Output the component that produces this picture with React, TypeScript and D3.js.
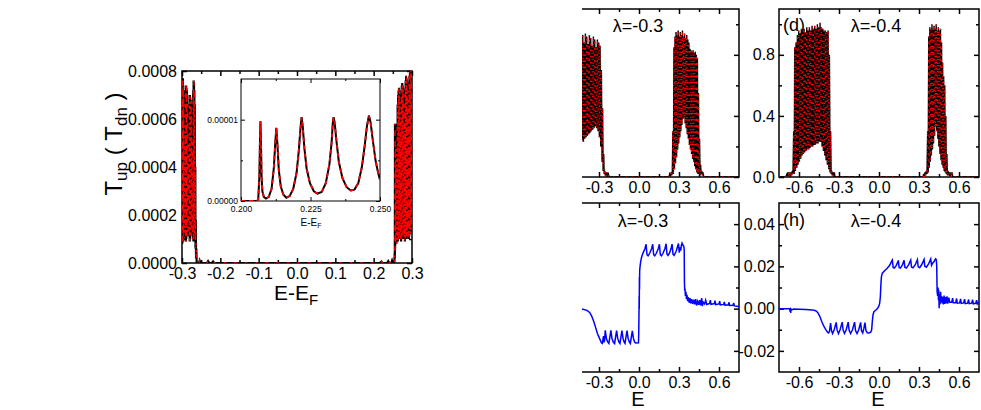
import { useEffect, useRef } from "react";
import * as d3 from "d3";

type Pt = [number, number];

const FONT = "'Liberation Sans', Arial, sans-serif";

// Left figure: T_up (black) and T_dn (red dashed) vs E-E_F. Both channels overlap within line width.
const mainT: Pt[] = [
  [-0.3, 0.0003], [-0.2996, 0.00077], [-0.2991, 0.00008], [-0.2986, 0.00076], [-0.2981, 0.0001],
  [-0.2976, 0.00077], [-0.2971, 0.00009], [-0.2966, 0.00074], [-0.2961, 0.00011], [-0.2956, 0.00072],
  [-0.2951, 0.00012], [-0.2945, 0.0007], [-0.2939, 0.00013], [-0.293, 0.00048], [-0.2921, 0.00012],
  [-0.2913, 0.00055], [-0.2908, 0.0001], [-0.2903, 0.00072], [-0.2898, 0.00009], [-0.2893, 0.00074],
  [-0.2888, 0.0001], [-0.2883, 0.00073], [-0.2878, 0.00011], [-0.2873, 0.00072], [-0.2868, 0.00012],
  [-0.2862, 0.0007], [-0.2856, 0.00013], [-0.285, 0.00066], [-0.2845, 0.00014], [-0.2836, 0.00045],
  [-0.2827, 0.00012], [-0.2818, 0.0005], [-0.281, 0.00011], [-0.2804, 0.00066], [-0.2799, 0.00009],
  [-0.2794, 0.0007], [-0.2789, 0.0001], [-0.2784, 0.00069], [-0.2779, 0.00011], [-0.2774, 0.00068],
  [-0.2768, 0.00012], [-0.2762, 0.00066], [-0.2756, 0.00013], [-0.275, 0.00062], [-0.2744, 0.00014],
  [-0.2735, 0.00045], [-0.2726, 0.00012], [-0.2718, 0.00052], [-0.2712, 0.0001], [-0.2707, 0.00072],
  [-0.2702, 0.00009], [-0.2697, 0.00076], [-0.2692, 0.0001], [-0.2687, 0.00075], [-0.2682, 0.00011],
  [-0.2677, 0.00072], [-0.2671, 0.00012], [-0.2665, 0.00066], [-0.2659, 0.0001], [-0.2653, 0.0004],
  [-0.2647, 0.00006], [-0.2641, 0.00018], [-0.2634, 0.00002], [-0.2626, 0.00006], [-0.2617, 0.0],
  [-0.256, 0.0], [-0.254, 0.00001], [-0.252, 0.0], [-0.235, 0.0], [-0.232, 0.000008], [-0.229, 0.0],
  [-0.222, 0.0], [-0.219, 0.000006], [-0.216, 0.0], [0.216, 0.0], [0.22, 0.000006], [0.223, 0.0],
  [0.235, 0.0], [0.238, 0.000008], [0.241, 0.0], [0.246, 0.0], [0.248, 0.00001], [0.25, 0.0],
  [0.254, 0.0], [0.2548, 0.00004], [0.2552, 0.00002], [0.2556, 0.00058], [0.256, 0.00006],
  [0.2564, 0.00057], [0.2569, 0.00008], [0.2574, 0.0005], [0.258, 0.00009], [0.2587, 0.0004],
  [0.2594, 0.00008], [0.2601, 0.00046], [0.2607, 0.00009], [0.2614, 0.00058], [0.262, 0.0001],
  [0.2626, 0.00066], [0.2632, 0.00009], [0.2638, 0.0007], [0.2644, 0.0001], [0.265, 0.00072],
  [0.2656, 0.00011], [0.2662, 0.00073], [0.2667, 0.0001], [0.2672, 0.00072], [0.2677, 0.00011],
  [0.2683, 0.00068], [0.2689, 0.00012], [0.2696, 0.00052], [0.2703, 0.0001], [0.271, 0.0006],
  [0.2716, 0.00009], [0.2722, 0.0007], [0.2728, 0.0001], [0.2734, 0.00074], [0.274, 0.00011],
  [0.2746, 0.00075], [0.2752, 0.0001], [0.2758, 0.00074], [0.2764, 0.00011], [0.277, 0.00073],
  [0.2776, 0.00012], [0.2782, 0.0007], [0.2788, 0.00012], [0.2795, 0.00055], [0.2802, 0.0001],
  [0.2809, 0.00064], [0.2815, 0.00009], [0.2822, 0.00072], [0.2828, 0.0001], [0.2834, 0.00076],
  [0.284, 0.00011], [0.2846, 0.00078], [0.2852, 0.0001], [0.2858, 0.00077], [0.2864, 0.00011],
  [0.287, 0.00076], [0.2876, 0.00012], [0.2882, 0.00072], [0.2888, 0.00012], [0.2895, 0.0006],
  [0.2902, 0.00011], [0.2909, 0.00068], [0.2915, 0.0001], [0.2922, 0.00075], [0.2928, 0.00011],
  [0.2934, 0.00078], [0.294, 0.00012], [0.2946, 0.00079], [0.2952, 0.00012], [0.2958, 0.0008],
  [0.2964, 0.00013], [0.297, 0.0008], [0.2976, 0.00014], [0.2982, 0.00079], [0.2988, 0.00015],
  [0.2994, 0.0008], [0.3, 0.0006],
];

// Inset: T in units of 1e-5 vs E-E_F
const insetT: Pt[] = [
  [0.2, 0], [0.204, 0], [0.2058, 0], [0.2062, 0.02], [0.2066, 0.3], [0.2068, 0.7], [0.207, 0.98],
  [0.2072, 0.7], [0.2074, 0.3], [0.2077, 0.12], [0.2082, 0.05], [0.209, 0.03], [0.21, 0.05],
  [0.211, 0.15], [0.2118, 0.4], [0.2123, 0.7], [0.2127, 0.9], [0.2131, 0.7], [0.2136, 0.38],
  [0.2143, 0.18], [0.2152, 0.08], [0.2163, 0.04], [0.2175, 0.06], [0.2188, 0.15], [0.22, 0.35],
  [0.2208, 0.62], [0.2214, 0.9], [0.2218, 1.03], [0.2222, 0.92], [0.2228, 0.65], [0.2236, 0.4],
  [0.2248, 0.22], [0.2262, 0.12], [0.2275, 0.09], [0.229, 0.11], [0.2305, 0.22], [0.2318, 0.45],
  [0.2326, 0.72], [0.233, 0.95], [0.2333, 1.03], [0.2337, 0.96], [0.2343, 0.75], [0.2352, 0.48],
  [0.2365, 0.28], [0.238, 0.17], [0.2395, 0.13], [0.2408, 0.14], [0.2422, 0.22], [0.2435, 0.42],
  [0.2445, 0.68], [0.2453, 0.92], [0.246, 1.05], [0.2466, 0.97], [0.2474, 0.75], [0.2484, 0.5],
  [0.2493, 0.35], [0.25, 0.26],
];

// Panel (c) lambda=-0.3 transmission vs E
const cT: Pt[] = [
  [-0.75, 0], [-0.47, 0], [-0.466, 0.3], [-0.462, 0.92], [-0.457, 0.22], [-0.452, 0.95], [-0.447, 0.23],
  [-0.442, 0.9], [-0.437, 0.22], [-0.432, 0.94], [-0.427, 0.24], [-0.422, 0.93], [-0.417, 0.23],
  [-0.412, 0.88], [-0.407, 0.25], [-0.402, 0.94], [-0.397, 0.26], [-0.392, 0.92], [-0.387, 0.27],
  [-0.382, 0.87], [-0.377, 0.28], [-0.372, 0.93], [-0.367, 0.29], [-0.362, 0.91], [-0.357, 0.3],
  [-0.352, 0.86], [-0.347, 0.31], [-0.342, 0.92], [-0.337, 0.32], [-0.332, 0.9], [-0.327, 0.33],
  [-0.322, 0.85], [-0.317, 0.32], [-0.312, 0.9], [-0.307, 0.3], [-0.302, 0.88], [-0.297, 0.26],
  [-0.292, 0.86], [-0.287, 0.2], [-0.282, 0.7], [-0.277, 0.1], [-0.273, 0.45], [-0.269, 0.04],
  [-0.265, 0.15], [-0.261, 0.02], [-0.257, 0.04], [-0.253, 0.01], [-0.249, 0.03], [-0.245, 0],
  [-0.24, 0.03], [-0.235, 0.01], [-0.23, 0.02], [-0.225, 0], [0.225, 0], [0.23, 0.02], [0.235, 0.01],
  [0.24, 0.03], [0.245, 0.01], [0.25, 0.04], [0.254, 0.3], [0.258, 0.02], [0.262, 0.85], [0.266, 0.05],
  [0.27, 0.92], [0.274, 0.09], [0.278, 0.95], [0.282, 0.13], [0.286, 0.93], [0.29, 0.18], [0.294, 0.96],
  [0.298, 0.22], [0.302, 0.92], [0.306, 0.26], [0.31, 0.95], [0.314, 0.3], [0.318, 0.93], [0.322, 0.34],
  [0.326, 0.96], [0.33, 0.38], [0.334, 0.92], [0.338, 0.39], [0.342, 0.94], [0.346, 0.35], [0.35, 0.91],
  [0.354, 0.32], [0.358, 0.93], [0.362, 0.28], [0.366, 0.9], [0.37, 0.25], [0.374, 0.88], [0.378, 0.21],
  [0.382, 0.84], [0.386, 0.18], [0.39, 0.83], [0.394, 0.15], [0.398, 0.82], [0.402, 0.12], [0.406, 0.83],
  [0.41, 0.1], [0.414, 0.81], [0.418, 0.07], [0.422, 0.82], [0.426, 0.05], [0.43, 0.8], [0.434, 0.03],
  [0.438, 0.78], [0.442, 0.02], [0.446, 0.55], [0.45, 0.02], [0.454, 0.25], [0.458, 0.01], [0.462, 0.08],
  [0.466, 0.02], [0.47, 0.04], [0.475, 0.01], [0.48, 0.03], [0.486, 0], [0.75, 0],
];

// Panel (d) lambda=-0.4 transmission vs E
const dT: Pt[] = [
  [-0.75, 0], [-0.7, 0], [-0.69, 0.02], [-0.685, 0], [-0.68, 0.03], [-0.675, 0.01], [-0.67, 0.03],
  [-0.665, 0], [-0.66, 0.03], [-0.655, 0.01], [-0.65, 0.04], [-0.645, 0.02], [-0.64, 0.3], [-0.636, 0.02],
  [-0.632, 0.85], [-0.627, 0.04], [-0.622, 0.88], [-0.617, 0.06], [-0.612, 0.93], [-0.607, 0.08],
  [-0.602, 0.96], [-0.597, 0.1], [-0.592, 0.94], [-0.587, 0.12], [-0.582, 0.97], [-0.577, 0.14],
  [-0.572, 0.95], [-0.567, 0.15], [-0.562, 0.97], [-0.557, 0.16], [-0.552, 0.95], [-0.547, 0.17],
  [-0.542, 0.98], [-0.537, 0.18], [-0.532, 0.96], [-0.527, 0.18], [-0.522, 0.98], [-0.517, 0.19],
  [-0.512, 0.96], [-0.507, 0.2], [-0.502, 0.99], [-0.497, 0.2], [-0.492, 0.97], [-0.487, 0.21],
  [-0.482, 0.99], [-0.477, 0.21], [-0.472, 0.97], [-0.467, 0.22], [-0.462, 1.0], [-0.457, 0.22],
  [-0.452, 0.98], [-0.447, 0.23], [-0.442, 1.01], [-0.437, 0.23], [-0.432, 0.98], [-0.427, 0.2],
  [-0.422, 0.97], [-0.417, 0.17], [-0.412, 0.96], [-0.407, 0.14], [-0.402, 0.96], [-0.397, 0.11],
  [-0.392, 0.95], [-0.387, 0.08], [-0.382, 0.96], [-0.377, 0.05], [-0.372, 0.8], [-0.367, 0.03],
  [-0.363, 0.3], [-0.359, 0.02], [-0.355, 0.04], [-0.35, 0.01], [-0.345, 0.03], [-0.34, 0],
  [-0.335, 0.03], [-0.33, 0], [0.33, 0], [0.335, 0.02], [0.34, 0], [0.345, 0.03], [0.35, 0.01],
  [0.355, 0.04], [0.36, 0.02], [0.365, 0.3], [0.369, 0.03], [0.373, 0.92], [0.377, 0.06], [0.381, 0.98],
  [0.385, 0.1], [0.389, 0.97], [0.393, 0.14], [0.397, 1.0], [0.401, 0.18], [0.405, 0.97], [0.409, 0.22],
  [0.413, 0.99], [0.417, 0.27], [0.421, 0.97], [0.425, 0.33], [0.429, 1.0], [0.433, 0.3], [0.437, 0.96],
  [0.441, 0.25], [0.445, 0.98], [0.449, 0.2], [0.453, 0.96], [0.457, 0.15], [0.461, 0.97], [0.465, 0.11],
  [0.469, 0.88], [0.473, 0.08], [0.477, 0.75], [0.481, 0.06], [0.485, 0.66], [0.489, 0.04], [0.493, 0.6],
  [0.497, 0.03], [0.501, 0.4], [0.505, 0.02], [0.509, 0.15], [0.513, 0.01], [0.518, 0.04], [0.523, 0.01],
  [0.528, 0.03], [0.533, 0], [0.538, 0.03], [0.543, 0.01], [0.548, 0.03], [0.553, 0], [0.75, 0],
];

// Panel (g) lambda=-0.3 blue curve vs E
const gP: Pt[] = [
  [-0.75, 0], [-0.5, 0], [-0.42, -0.0003], [-0.39, -0.0008], [-0.37, -0.0018], [-0.355, -0.0035],
  [-0.34, -0.006], [-0.325, -0.009], [-0.312, -0.0118], [-0.3, -0.0135], [-0.29, -0.015], [-0.282, -0.0162],
  [-0.275, -0.0165], [-0.266, -0.013], [-0.262, -0.016], [-0.258, -0.015], [-0.253, -0.0103],
  [-0.245, -0.014], [-0.235, -0.0158], [-0.226, -0.0165], [-0.211, -0.0103], [-0.203, -0.014],
  [-0.193, -0.0158], [-0.183, -0.0165], [-0.168, -0.0104], [-0.16, -0.014], [-0.151, -0.0158],
  [-0.143, -0.0165], [-0.128, -0.0104], [-0.12, -0.014], [-0.112, -0.0158], [-0.105, -0.0165],
  [-0.09, -0.0104], [-0.082, -0.014], [-0.073, -0.0158], [-0.065, -0.0165], [-0.05, -0.0105],
  [-0.042, -0.014], [-0.033, -0.0158], [-0.025, -0.0163], [-0.004, -0.0162], [-0.002, -0.012],
  [0.0, -0.002], [0.001, 0.006], [0.002, 0.0], [0.003, 0.015], [0.004, 0.009], [0.005, 0.018],
  [0.008, 0.02], [0.012, 0.022], [0.018, 0.024], [0.025, 0.0255], [0.035, 0.027], [0.045, 0.0285],
  [0.053, 0.0305], [0.06, 0.0255], [0.068, 0.025], [0.08, 0.0262], [0.095, 0.0285], [0.103, 0.0305],
  [0.11, 0.0255], [0.118, 0.025], [0.13, 0.0262], [0.145, 0.0285], [0.153, 0.0305], [0.16, 0.0255],
  [0.168, 0.025], [0.18, 0.0262], [0.195, 0.0285], [0.203, 0.0307], [0.21, 0.0258], [0.218, 0.0252],
  [0.23, 0.0265], [0.242, 0.0288], [0.248, 0.0305], [0.255, 0.0258], [0.263, 0.0252], [0.278, 0.027],
  [0.29, 0.0295], [0.296, 0.0308], [0.302, 0.0265], [0.308, 0.029], [0.313, 0.0275], [0.318, 0.03],
  [0.323, 0.031], [0.33, 0.03], [0.336, 0.0295], [0.339, 0.028], [0.341, 0.012], [0.343, 0.0085],
  [0.345, 0.0095], [0.348, 0.006], [0.352, 0.008], [0.356, 0.0045], [0.36, 0.0065], [0.365, 0.0035],
  [0.37, 0.0055], [0.376, 0.0028], [0.382, 0.005], [0.388, 0.0025], [0.395, 0.0045], [0.402, 0.0022],
  [0.41, 0.0042], [0.418, 0.002], [0.425, 0.0045], [0.432, 0.0015], [0.44, 0.0035], [0.448, 0.0018],
  [0.455, 0.004], [0.462, 0.0015], [0.47, 0.005], [0.475, 0.0012], [0.482, 0.003], [0.492, 0.0022],
  [0.5, 0.004], [0.508, 0.002], [0.53, 0.0025], [0.535, 0.004], [0.54, 0.002], [0.565, 0.0024],
  [0.57, 0.0038], [0.575, 0.0019], [0.6, 0.0022], [0.605, 0.0035], [0.61, 0.0018], [0.635, 0.002],
  [0.64, 0.0032], [0.645, 0.0016], [0.67, 0.0018], [0.675, 0.003], [0.68, 0.0015], [0.705, 0.0016],
  [0.71, 0.0027], [0.715, 0.0013], [0.75, 0.001],
];

// Panel (h) lambda=-0.4 blue curve vs E
const hP: Pt[] = [
  [-0.75, 0], [-0.7, 0], [-0.67, -0.0001], [-0.666, -0.0015], [-0.664, -0.0003], [-0.662, -0.002],
  [-0.66, -0.0002], [-0.655, -0.0006], [-0.64, -0.0002], [-0.6, -0.0003], [-0.55, -0.0004], [-0.5, -0.0006],
  [-0.475, -0.001], [-0.46, -0.0018], [-0.445, -0.0035], [-0.43, -0.006], [-0.415, -0.0082], [-0.4, -0.0098],
  [-0.39, -0.0108], [-0.38, -0.0115], [-0.372, -0.011], [-0.363, -0.0068], [-0.356, -0.0105],
  [-0.348, -0.0118], [-0.336, -0.01], [-0.321, -0.0065], [-0.314, -0.0102], [-0.304, -0.0118],
  [-0.292, -0.01], [-0.276, -0.0064], [-0.269, -0.0102], [-0.259, -0.0117], [-0.246, -0.01],
  [-0.231, -0.0064], [-0.224, -0.0103], [-0.213, -0.0118], [-0.199, -0.01], [-0.183, -0.0064],
  [-0.176, -0.0104], [-0.165, -0.0118], [-0.152, -0.01], [-0.138, -0.0065], [-0.131, -0.0105],
  [-0.122, -0.0115], [-0.114, -0.0095], [-0.105, -0.0066], [-0.098, -0.0104], [-0.088, -0.0114],
  [-0.075, -0.0115], [-0.062, -0.0112], [-0.055, -0.01], [-0.05, -0.006], [-0.045, -0.003],
  [-0.038, -0.0015], [-0.025, -0.0008], [-0.012, 0.0], [-0.002, 0.001], [0.005, 0.0025], [0.01, 0.0055],
  [0.014, 0.011], [0.018, 0.015], [0.025, 0.0168], [0.04, 0.0178], [0.06, 0.019], [0.08, 0.0205],
  [0.098, 0.0228], [0.1, 0.023], [0.106, 0.0195], [0.115, 0.0192], [0.13, 0.0205], [0.145, 0.0228],
  [0.151, 0.0195], [0.16, 0.0192], [0.175, 0.0206], [0.188, 0.0229], [0.194, 0.0196], [0.205, 0.0192],
  [0.222, 0.0207], [0.238, 0.023], [0.244, 0.0197], [0.255, 0.0193], [0.272, 0.0208], [0.288, 0.0232],
  [0.294, 0.0198], [0.305, 0.0194], [0.322, 0.021], [0.338, 0.0233], [0.344, 0.02], [0.355, 0.0196],
  [0.372, 0.0212], [0.388, 0.0235], [0.394, 0.0205], [0.402, 0.0215], [0.412, 0.0222], [0.42, 0.0232],
  [0.425, 0.0236], [0.43, 0.023], [0.433, 0.02], [0.436, 0.008], [0.44, 0.006], [0.443, 0.01],
  [0.446, 0.004], [0.447, 0.0088], [0.449, 0.007], [0.451, 0.0002], [0.452, 0.003], [0.455, 0.0065],
  [0.458, 0.002], [0.462, 0.008], [0.465, 0.003], [0.47, 0.006], [0.474, 0.0025], [0.478, 0.0055],
  [0.483, 0.002], [0.488, 0.0062], [0.493, 0.0022], [0.498, 0.0055], [0.503, 0.0025], [0.51, 0.0058],
  [0.516, 0.0024], [0.524, 0.0052], [0.53, 0.003], [0.545, 0.003], [0.552, 0.005], [0.557, 0.0028],
  [0.575, 0.0028], [0.582, 0.0048], [0.587, 0.0026], [0.605, 0.0027], [0.612, 0.0046], [0.617, 0.0025],
  [0.635, 0.0027], [0.642, 0.0045], [0.647, 0.0024], [0.665, 0.0026], [0.672, 0.0043], [0.677, 0.0024],
  [0.695, 0.0026], [0.702, 0.0042], [0.707, 0.0023], [0.725, 0.0025], [0.732, 0.004], [0.737, 0.0022],
  [0.75, 0.0033],
];

// ticks
const mainXMajor = [-0.3, -0.2, -0.1, 0, 0.1, 0.2, 0.3];
const mainXMinor = [-0.25, -0.15, -0.05, 0.05, 0.15, 0.25];
const mainYMajor = [0, 0.0002, 0.0004, 0.0006, 0.0008];
const mainYMinor = [0.0001, 0.0003, 0.0005, 0.0007];
const insetXMajor = [0.2, 0.225, 0.25];
const insetXMinor = [0.2125, 0.2375];
const insetYMajor = [0, 1];
const insetYLabels = ["0.00000", "0.00001"];
const insetYMinor = [0.5];
const panelXMajor = [-0.6, -0.3, 0, 0.3, 0.6];
const panelXMinor = [-0.45, -0.15, 0.15, 0.45];
const tYMajor = [0, 0.4, 0.8];
const tYMinor = [0.2, 0.6, 1.0];
const pYMajor = [-0.02, 0, 0.02, 0.04];
const pYMinor = [-0.01, 0.01, 0.03];

interface FrameOpts {
  xMajor: number[];
  xMinor: number[];
  yMajor: number[];
  yMinor: number[];
  xFmt: (d: number) => string;
  yFmt: (d: number) => string;
  fontSize: number;
  xPad: number;
  yPad: number;
  major: number;
  minor: number;
  stroke: number;
}

function drawFrame(g: any, x: any, y: any, o: FrameOpts) {
  const [left, right] = x.range();
  const [bottom, top] = y.range();
  const style = (sel: any) => {
    sel.select(".domain").remove();
    sel.selectAll("line").attr("stroke-width", o.stroke);
    sel
      .selectAll("text")
      .attr("font-family", FONT)
      .attr("font-size", o.fontSize)
      .attr("fill", "#000");
  };
  const add = (axis: any, tx: number, ty: number) =>
    g.append("g").attr("transform", `translate(${tx},${ty})`).call(axis).call(style);
  const none = () => "";

  add(d3.axisBottom(x).tickValues(o.xMajor).tickSize(-o.major).tickPadding(o.xPad).tickFormat(o.xFmt as any), 0, bottom);
  add(d3.axisBottom(x).tickValues(o.xMinor).tickSize(-o.minor).tickFormat(none), 0, bottom);
  add(d3.axisTop(x).tickValues(o.xMajor).tickSize(-o.major).tickFormat(none), 0, top);
  add(d3.axisTop(x).tickValues(o.xMinor).tickSize(-o.minor).tickFormat(none), 0, top);
  add(d3.axisLeft(y).tickValues(o.yMajor).tickSize(-o.major).tickPadding(o.yPad).tickFormat(o.yFmt as any), left, 0);
  add(d3.axisLeft(y).tickValues(o.yMinor).tickSize(-o.minor).tickFormat(none), left, 0);
  add(d3.axisRight(y).tickValues(o.yMajor).tickSize(-o.major).tickFormat(none), right, 0);
  add(d3.axisRight(y).tickValues(o.yMinor).tickSize(-o.minor).tickFormat(none), right, 0);

  g.append("rect")
    .attr("x", left)
    .attr("y", top)
    .attr("width", right - left)
    .attr("height", bottom - top)
    .attr("fill", "none")
    .attr("stroke", "#000")
    .attr("stroke-width", o.stroke);
}

function clipRect(defs: any, id: string, x: number, y: number, w: number, h: number) {
  defs.append("clipPath").attr("id", id).append("rect").attr("x", x).attr("y", y).attr("width", w).attr("height", h);
}

function plotClip(defs: any, id: string, x: any, y: any) {
  const [l, r] = x.range();
  const [b, t] = y.range();
  clipRect(defs, id, l, t, r - l, b - t);
}

export default function App() {
  const svgRef = useRef<SVGSVGElement>(null);

  useEffect(() => {
    const svg = d3.select(svgRef.current);
    svg.selectAll("*").remove();
    const defs = svg.append("defs");

    const line = (x: any, y: any) =>
      d3
        .line<Pt>()
        .x((d) => x(d[0]))
        .y((d) => y(d[1]));

    const label = (g: any, x: number, y: number, size: number, anchor = "middle") =>
      g
        .append("text")
        .attr("x", x)
        .attr("y", y)
        .attr("font-family", FONT)
        .attr("font-size", size)
        .attr("text-anchor", anchor)
        .attr("fill", "#000");

    // ---------- left figure ----------
    const mx = d3.scaleLinear().domain([-0.3, 0.3]).range([182, 412]);
    const my = d3.scaleLinear().domain([0, 0.0008]).range([263, 71]);
    const gm = svg.append("g");
    drawFrame(gm, mx, my, {
      xMajor: mainXMajor,
      xMinor: mainXMinor,
      yMajor: mainYMajor,
      yMinor: mainYMinor,
      xFmt: (d) => d.toFixed(1),
      yFmt: (d) => d.toFixed(4),
      fontSize: 16,
      xPad: 5,
      yPad: 5,
      major: 5,
      minor: 3,
      stroke: 1.5,
    });
    plotClip(defs, "clip-main", mx, my);
    const mData = gm.append("g").attr("clip-path", "url(#clip-main)");
    mData.append("path").datum(mainT).attr("d", line(mx, my)).attr("fill", "none").attr("stroke", "#000").attr("stroke-width", 2.2);
    mData
      .append("path")
      .datum(mainT)
      .attr("d", line(mx, my))
      .attr("fill", "none")
      .attr("stroke", "#ff0000")
      .attr("stroke-width", 1.4)
      .attr("stroke-dasharray", "2.5,8");

    const yt = label(gm, 122, 0, 24).attr("transform", "translate(0,144) rotate(-90,122,0)");
    yt.append("tspan").text("T");
    yt.append("tspan").attr("font-size", 17).attr("dy", 5).text("up");
    yt.append("tspan").attr("dy", -5).text("\u00a0(\u00a0T");
    yt.append("tspan").attr("font-size", 17).attr("dy", 5).text("dn");
    yt.append("tspan").attr("dy", -5).text("\u00a0)");

    const xt = label(gm, 296, 300, 21);
    xt.append("tspan").text("E-E");
    xt.append("tspan").attr("font-size", 15).attr("dy", 5).text("F");

    // inset
    const ix = d3.scaleLinear().domain([0.2, 0.25]).range([241, 380]);
    const iy = d3.scaleLinear().domain([0, 1.5]).range([201, 79]);
    const gi = svg.append("g");
    gi.append("rect").attr("x", 241).attr("y", 79).attr("width", 139).attr("height", 122).attr("fill", "#fff");
    drawFrame(gi, ix, iy, {
      xMajor: insetXMajor,
      xMinor: insetXMinor,
      yMajor: insetYMajor,
      yMinor: insetYMinor,
      xFmt: (d) => d.toFixed(3),
      yFmt: (d) => insetYLabels[insetYMajor.indexOf(d)],
      fontSize: 8.5,
      xPad: 5,
      yPad: 3,
      major: 4,
      minor: 2,
      stroke: 1,
    });
    plotClip(defs, "clip-inset", ix, iy);
    const iData = gi.append("g").attr("clip-path", "url(#clip-inset)");
    iData.append("path").datum(insetT).attr("d", line(ix, iy)).attr("fill", "none").attr("stroke", "#000").attr("stroke-width", 2);
    iData
      .append("path")
      .datum(insetT)
      .attr("d", line(ix, iy))
      .attr("fill", "none")
      .attr("stroke", "#ff0000")
      .attr("stroke-width", 1.8)
      .attr("stroke-dasharray", "4,4");
    const it = label(gi, 311, 226, 10);
    it.append("tspan").text("E-E");
    it.append("tspan").attr("font-size", 7).attr("dy", 2).text("F");

    // ---------- right panels ----------
    clipRect(defs, "clip-crop", 582, 0, 399, 410);

    const panelX = (l: number) => d3.scaleLinear().domain([-0.75, 0.75]).range([l, l + 200]);
    const topY = d3.scaleLinear().domain([0, 1.1]).range([177, 9]);
    const botY = d3.scaleLinear().domain([-0.03, 0.05]).range([372, 203]);

    const panel = (id: string, left: number, y: any, yMajor: number[], yMinor: number[], yDig: number, crop: boolean) => {
      const x = panelX(left);
      const g = svg.append("g");
      if (crop) g.attr("clip-path", "url(#clip-crop)");
      drawFrame(g, x, y, {
        xMajor: panelXMajor,
        xMinor: panelXMinor,
        yMajor,
        yMinor,
        xFmt: (d) => d.toFixed(1),
        yFmt: (d) => d.toFixed(yDig),
        fontSize: 16,
        xPad: 5,
        yPad: 4,
        major: 5,
        minor: 3,
        stroke: 1.5,
      });
      plotClip(defs, id, x, y);
      const data = g.append("g").attr("clip-path", `url(#${id})`);
      return { x, g, data };
    };

    const transmission = (p: any, pts: Pt[]) => {
      p.data.append("path").datum(pts).attr("d", line(p.x, topY)).attr("fill", "none").attr("stroke", "#000").attr("stroke-width", 1.4);
      p.data
        .append("path")
        .datum(pts)
        .attr("d", line(p.x, topY))
        .attr("fill", "none")
        .attr("stroke", "#ff0000")
        .attr("stroke-width", 1.2)
        .attr("stroke-dasharray", "1.2,5");
    };
    const blue = (p: any, pts: Pt[]) =>
      p.data.append("path").datum(pts).attr("d", line(p.x, botY)).attr("fill", "none").attr("stroke", "#0000ff").attr("stroke-width", 1.5);

    const pc = panel("clip-c", 539, topY, tYMajor, tYMinor, 1, true);
    transmission(pc, cT);
    label(pc.g, 638, 32, 18).text("\u03bb=-0.3");

    const pd = panel("clip-d", 779, topY, tYMajor, tYMinor, 1, false);
    transmission(pd, dT);
    label(pd.g, 783, 31, 18, "start").text("(d)");
    label(pd.g, 876, 32, 18).text("\u03bb=-0.4");

    const pg = panel("clip-g", 539, botY, pYMajor, pYMinor, 2, true);
    blue(pg, gP);
    label(pg.g, 643, 227, 18).text("\u03bb=-0.3");
    label(pg.g, 638, 406, 20).text("E");

    const ph = panel("clip-h", 779, botY, pYMajor, pYMinor, 2, false);
    blue(ph, hP);
    label(ph.g, 783, 226, 18, "start").text("(h)");
    label(ph.g, 876, 227, 18).text("\u03bb=-0.4");
    label(ph.g, 878, 406, 20).text("E");
  }, []);

  return (
    <svg
      ref={svgRef}
      width={981}
      height={410}
      style={{ position: "absolute", left: 0, top: 0, background: "#fff" }}
    />
  );
}
